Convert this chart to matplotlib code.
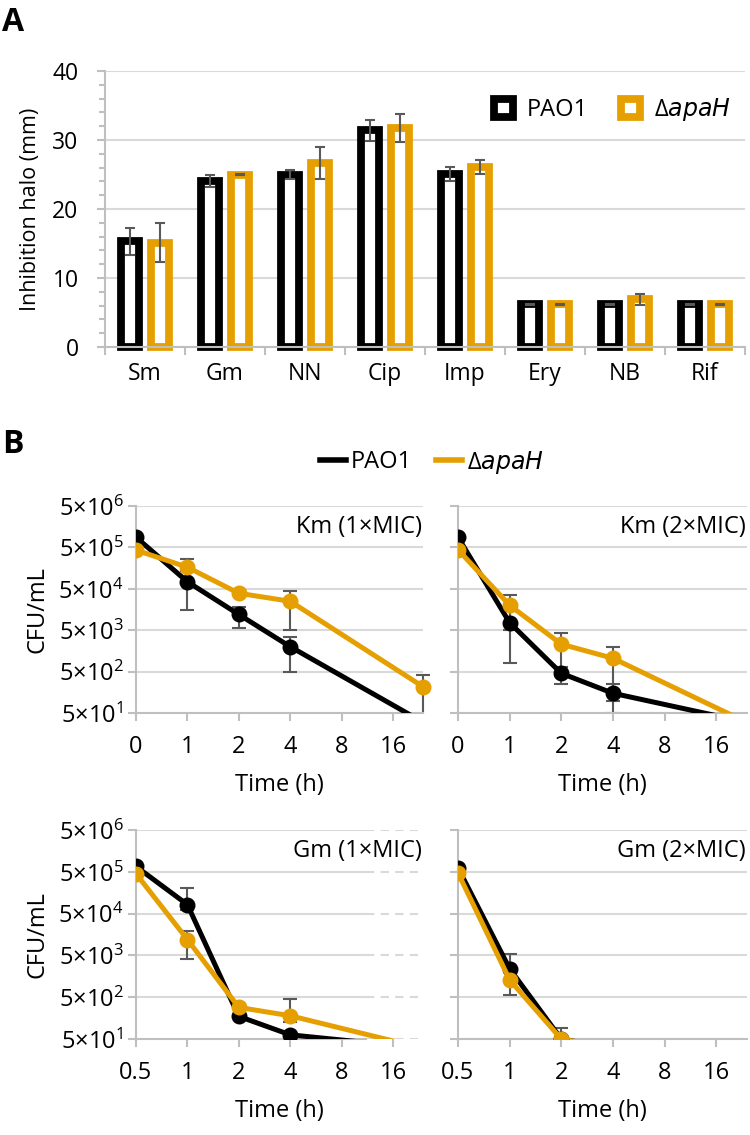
import numpy as np
import matplotlib
matplotlib.use("Agg")
import matplotlib.pyplot as plt
from matplotlib.patches import Patch, Rectangle
from matplotlib.lines import Line2D
from matplotlib import font_manager

plt.rcParams['font.family'] = ['Open Sans', 'DejaVu Sans']
plt.rcParams['mathtext.default'] = 'regular'

try:
    font_manager.findfont(font_manager.FontProperties(family='Liberation Sans Narrow'),
                          fallback_to_default=False)
    NARROW = ['Liberation Sans Narrow', 'Open Sans']
except Exception:
    NARROW = ['Open Sans']

# ---------------- data ----------------
categories = ['Sm', 'Gm', 'NN', 'Cip', 'Imp', 'Ery', 'NB', 'Rif']
pao1_halo = [15.3, 24.1, 25.0, 31.4, 25.1, 6.2, 6.2, 6.2]
pao1_halo_err = [1.9, 0.9, 0.7, 1.5, 1.0, 0.05, 0.05, 0.05]
apah_halo = [15.1, 25.0, 26.7, 31.7, 26.1, 6.2, 6.9, 6.2]
apah_halo_err = [2.8, 0.05, 2.3, 2.0, 1.0, 0.05, 0.8, 0.05]

km_times = [0, 1, 2, 4, 24]
gm_times = [0.5, 1, 2, 4, 24]
time_ticks_km = [0, 1, 2, 4, 8, 16]
time_ticks_gm = [0.5, 1, 2, 4, 8, 16]
time_ticklabels_km = ['0', '1', '2', '4', '8', '16']
time_ticklabels_gm = ['0.5', '1', '2', '4', '8', '16']
cfu_ticks = [5e1, 5e2, 5e3, 5e4, 5e5, 5e6]
cfu_ticklabels = [r'$5×10^{1}$', r'$5×10^{2}$', r'$5×10^{3}$',
                  r'$5×10^{4}$', r'$5×10^{5}$', r'$5×10^{6}$']

km1_pao1 = [8.8e5, 7.4e4, 1.2e4, 2.0e3, 30]
km1_pao1_lo = [0, 5.9e4, 6.2e3, 1.5e3, 0]
km1_pao1_hi = [0, 5.9e4, 6.2e3, 1.5e3, 0]
km1_apah = [4.3e5, 1.66e5, 3.9e4, 2.5e4, 216]
km1_apah_lo = [0, 9.6e4, 0, 2.0e4, 200]
km1_apah_hi = [0, 9.6e4, 0, 2.0e4, 200]

km2_pao1 = [8.8e5, 7.6e3, 455, 150, 30]
km2_pao1_lo = [0, 6.8e3, 200, 100, 0]
km2_pao1_hi = [0, 6.8e3, 200, 100, 0]
km2_apah = [4.4e5, 2.0e4, 2.3e3, 1.05e3, 30]
km2_apah_lo = [0, 1.5e4, 1.9e3, 950, 0]
km2_apah_hi = [0, 1.5e4, 1.9e3, 950, 0]

gm1_pao1 = [6.7e5, 8.2e4, 174, 63, 30]
gm1_pao1_lo = [0, 2.0e4, 0, 0, 0]
gm1_pao1_hi = [0, 1.2e5, 0, 0, 0]
gm1_apah = [4.5e5, 1.2e4, 285, 180, 30]
gm1_apah_lo = [0, 7.8e3, 0, 50, 0]
gm1_apah_hi = [0, 7.6e3, 0, 270, 0]

gm2_pao1 = [6.2e5, 2.4e3, 50, 30, 30]
gm2_pao1_lo = [0, 1.0e3, 0, 0, 0]
gm2_pao1_hi = [0, 3.0e3, 42, 0, 0]
gm2_apah = [4.7e5, 1.3e3, 50, 30, 30]
gm2_apah_lo = [0, 730, 0, 0, 0]
gm2_apah_hi = [0, 700, 0, 0, 0]

panel_titles = ['Km (1×MIC)', 'Km (2×MIC)', 'Gm (1×MIC)', 'Gm (2×MIC)']
series_labels = ['PAO1', r'Δ$\it{apaH}$']

# ---------------- style ----------------
BLACK = '#000000'
ORANGE = '#E69F00'
ERRC = '#595959'
GRID = '#D9D9D9'
SPINE = '#BFBFBF'
FS = 17

W, H = 750, 1135
fig = plt.figure(figsize=(W / 100, H / 100), dpi=100)


def fr(l, t, r, b):
    return [l / W, 1 - b / H, (r - l) / W, (b - t) / H]


# ---------------- panel A ----------------
axA = fig.add_axes(fr(105, 71, 745, 347))
x = np.arange(len(categories))
bw = 0.225
off = 0.19
lw_bar = 5.6
axA.bar(x - off, pao1_halo, bw, facecolor='white', edgecolor=BLACK,
        linewidth=lw_bar, zorder=3, clip_on=False)
axA.bar(x + off, apah_halo, bw, facecolor='white', edgecolor=ORANGE,
        linewidth=lw_bar, zorder=3, clip_on=False)
axA.errorbar(x - off, pao1_halo, yerr=pao1_halo_err, fmt='none', ecolor=ERRC,
             elinewidth=1.5, capsize=3.8, capthick=1.5, zorder=4)
axA.errorbar(x + off, apah_halo, yerr=apah_halo_err, fmt='none', ecolor=ERRC,
             elinewidth=1.5, capsize=3.8, capthick=1.5, zorder=4)
axA.set_xlim(-0.5, len(categories) - 0.5)
axA.set_ylim(0, 40)
axA.set_yticks([0, 10, 20, 30, 40])
axA.set_yticks(np.arange(0, 41, 2), minor=True)
axA.yaxis.grid(True, color=GRID, linewidth=1.5)
axA.set_axisbelow(True)
axA.set_xticks(np.arange(-0.5, len(categories), 1))
axA.set_xticklabels([])
axA.set_xticks(x, minor=True)
axA.set_xticklabels(categories, minor=True, fontsize=16.5, family=NARROW)
axA.tick_params(axis='x', which='minor', length=0, pad=11)
axA.tick_params(axis='x', which='major', length=6, color=SPINE, width=1.5)
axA.tick_params(axis='y', which='major', length=6, color=SPINE, width=1.5,
                labelsize=16.5, pad=13)
axA.tick_params(axis='y', which='minor', length=4, color=SPINE, width=1.5)
for s in ['top', 'right']:
    axA.spines[s].set_visible(False)
for s in ['left', 'bottom']:
    axA.spines[s].set_color(SPINE)
    axA.spines[s].set_linewidth(1.5)
    axA.spines[s].set_zorder(5)
axA.set_ylabel('Inhibition halo (mm)', fontsize=15.5, labelpad=8)
handlesA = [Patch(facecolor='white', edgecolor=BLACK, linewidth=lw_bar),
            Patch(facecolor='white', edgecolor=ORANGE, linewidth=lw_bar)]
axA.legend(handlesA, series_labels, loc='upper right', bbox_to_anchor=(1.0, 0.96),
           frameon=False, fontsize=FS, ncol=2, handlelength=0.8, handleheight=0.8,
           handletextpad=0.6, columnspacing=1.4, borderaxespad=0.2)

fig.text(2 / W, 1 - 6 / H, 'A', fontsize=23, fontweight='bold', va='top', ha='left')
fig.text(2 / W, 1 - 428 / H, 'B', fontsize=23, fontweight='bold', va='top', ha='left')


# ---------------- panel B ----------------
def km_fwd(t):
    t = np.asarray(t, dtype=float)
    return np.where(t >= 1, np.log2(np.maximum(t, 1e-9)) + 1, t)


def km_inv(p):
    p = np.asarray(p, dtype=float)
    return np.where(p >= 1, 2.0 ** (p - 1), p)


def gm_fwd(t):
    t = np.asarray(t, dtype=float)
    return np.log2(np.maximum(t, 1e-9)) + 1


def gm_inv(p):
    p = np.asarray(p, dtype=float)
    return 2.0 ** (p - 1)


panels = [
    (fr(136, 506, 423, 713), km_times, (km_fwd, km_inv), (0, 24),
     time_ticks_km, time_ticklabels_km,
     (km1_pao1, km1_pao1_lo, km1_pao1_hi), (km1_apah, km1_apah_lo, km1_apah_hi), True),
    (fr(458, 506, 747, 713), km_times, (km_fwd, km_inv), (0, 24.2),
     time_ticks_km, time_ticklabels_km,
     (km2_pao1, km2_pao1_lo, km2_pao1_hi), (km2_apah, km2_apah_lo, km2_apah_hi), False),
    (fr(136, 830, 423, 1039), gm_times, (gm_fwd, gm_inv), (0.5, 24),
     time_ticks_gm, time_ticklabels_gm,
     (gm1_pao1, gm1_pao1_lo, gm1_pao1_hi), (gm1_apah, gm1_apah_lo, gm1_apah_hi), True),
    (fr(458, 830, 747, 1039), gm_times, (gm_fwd, gm_inv), (0.5, 24.2),
     time_ticks_gm, time_ticklabels_gm,
     (gm2_pao1, gm2_pao1_lo, gm2_pao1_hi), (gm2_apah, gm2_apah_lo, gm2_apah_hi), False),
]

for i, (rect, times, funcs, xl, xt, xtl, s1, s2, show_ylab) in enumerate(panels):
    ax = fig.add_axes(rect)
    ax.set_yscale('log')
    ax.set_xscale('function', functions=funcs)
    ax.set_xlim(*xl)
    ax.set_ylim(5e1, 5e6)
    ax.set_yticks(cfu_ticks)
    ax.set_yticklabels(cfu_ticklabels if show_ylab else [])
    ax.yaxis.set_minor_locator(matplotlib.ticker.NullLocator())
    ax.set_xticks(xt)
    ax.set_xticklabels(xtl)
    ax.xaxis.set_minor_locator(matplotlib.ticker.NullLocator())
    ax.tick_params(axis='both', length=6, color=SPINE, width=1.5, labelsize=FS)
    ax.tick_params(axis='x', pad=10)
    ax.tick_params(axis='y', pad=3)
    for s in ['top', 'right']:
        ax.spines[s].set_visible(False)
    for s in ['left', 'bottom']:
        ax.spines[s].set_color(SPINE)
        ax.spines[s].set_linewidth(1.5)
    if i == 2:
        # faded / dashed tail of the grid on the right of this panel
        xcut = 11.1
        ax.spines['bottom'].set_bounds(0.5, xcut)
        for yv in cfu_ticks[1:]:
            ax.plot([0.5, xcut], [yv, yv], color=GRID, lw=1.5, zorder=0)
        ax.hlines(cfu_ticks, xcut, xl[1], colors=GRID, lw=1.5,
                  linestyles=(0, (4, 3)), zorder=0)
    else:
        ax.yaxis.grid(True, color=GRID, linewidth=1.5)
    ax.set_axisbelow(True)
    ax.set_xlabel('Time (h)', fontsize=FS, labelpad=10)
    if show_ylab:
        ax.set_ylabel('CFU/mL', fontsize=FS, labelpad=6)
    ax.text(0.995, 0.9, panel_titles[i], transform=ax.transAxes, ha='right',
            va='center', fontsize=FS)

    clip = Rectangle((0, 0), 1.1, 1.2, transform=ax.transAxes, facecolor='none')
    for (vals, lo, hi), col, z in [(s1, BLACK, 3), (s2, ORANGE, 4)]:
        ln, = ax.plot(times, vals, '-o', color=col, lw=3.6, ms=11.5,
                      markeredgewidth=0, zorder=z)
        ln.set_clip_path(clip)
        eb = ax.errorbar(times, vals, yerr=[lo, hi], fmt='none', ecolor=ERRC,
                         elinewidth=1.5, capsize=5, capthick=1.5, zorder=2)
        for art in eb.lines[1] + eb.lines[2]:
            art.set_clip_path(clip)

handlesB = [Line2D([], [], color=BLACK, lw=4), Line2D([], [], color=ORANGE, lw=4)]
fig.legend(handlesB, series_labels, loc='center', bbox_to_anchor=(432 / W, 1 - 462 / H),
           ncol=2, frameon=False, fontsize=FS, handlelength=1.1, handletextpad=0.2,
           columnspacing=1.0)

fig.savefig('out.png', dpi=100)
